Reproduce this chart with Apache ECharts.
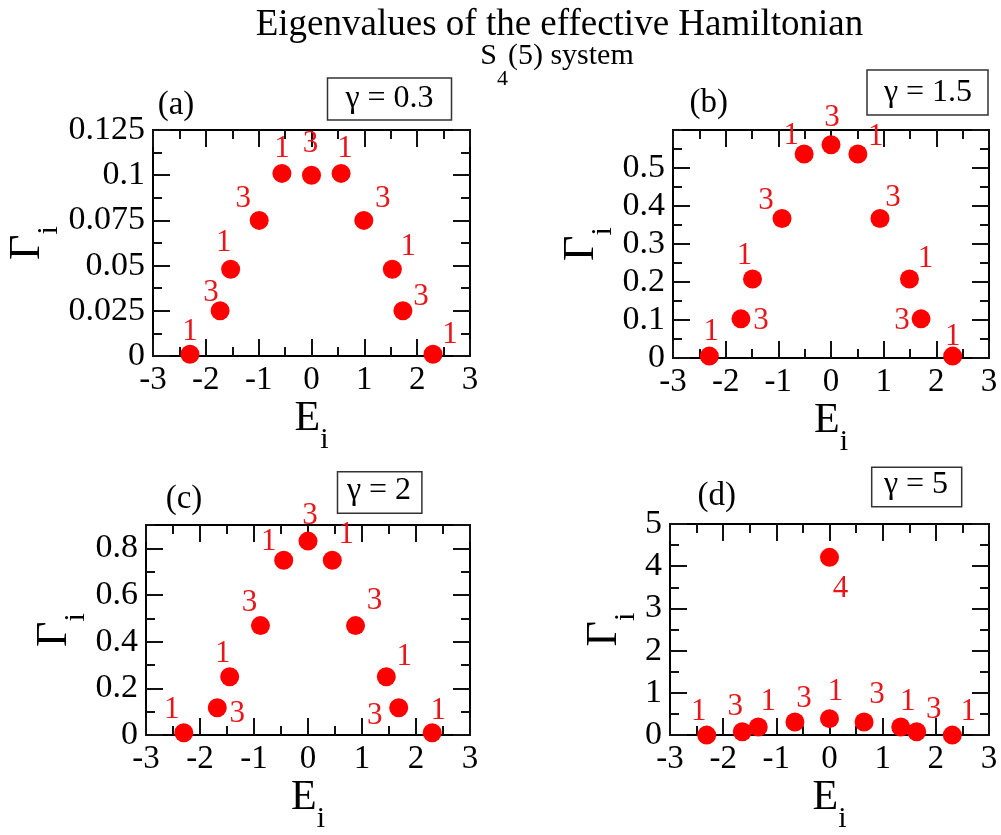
<!DOCTYPE html>
<html>
<head>
<meta charset="utf-8">
<script src="https://cdn.jsdelivr.net/npm/echarts@6/dist/echarts.min.js"></script>
<style>
  html, body { margin: 0; padding: 0; background: #fff; }
  #chart { width: 1001px; height: 835px; }
</style>
</head>
<body>
<div id="chart"></div>
<script>
// Complex eigenvalues E_i - i Γ_i/2 of the effective Hamiltonian of the S4(5) system,
// one panel per coupling γ; the number next to each point is its degeneracy.
const gammaValues = ['0.3', '1.5', '2', '5'];
const panelTags = ['(a)', '(b)', '(c)', '(d)'];

const energyA = [-2.30, -1.73, -1.53, -0.99, -0.56, 0.00, 0.56, 0.99, 1.53, 1.73, 2.30];
const widthA  = [0.001, 0.025, 0.048, 0.075, 0.101, 0.100, 0.101, 0.075, 0.048, 0.025, 0.001];
const degenA  = [1, 3, 1, 3, 1, 3, 1, 3, 1, 3, 1];

const energyB = [-2.31, -1.71, -1.49, -0.93, -0.51, 0.00, 0.51, 0.93, 1.49, 1.71, 2.31];
const widthB  = [0.005, 0.103, 0.208, 0.367, 0.537, 0.561, 0.537, 0.367, 0.208, 0.103, 0.005];
const degenB  = [1, 3, 1, 3, 1, 3, 1, 3, 1, 3, 1];

const energyC = [-2.30, -1.68, -1.45, -0.88, -0.45, 0.00, 0.45, 0.88, 1.45, 1.68, 2.30];
const widthC  = [0.010, 0.117, 0.250, 0.469, 0.749, 0.831, 0.749, 0.469, 0.250, 0.117, 0.010];
const degenC  = [1, 3, 1, 3, 1, 3, 1, 3, 1, 3, 1];

const energyD = [-2.31, -1.64, -1.34, -0.65, 0.00, 0.65, 1.34, 1.64, 2.31, 0.00];
const widthD  = [0.00, 0.08, 0.19, 0.31, 0.39, 0.31, 0.19, 0.08, 0.00, 4.21];
const degenD  = [1, 3, 1, 3, 1, 3, 1, 3, 1, 4];

// Axis ranges: [max, major step] of Γ_i for each panel; E_i always runs -3..3
const xRange = [-3, 3, 1];
const yRanges = [[0.125, 0.025], [0.6, 0.1], [0.9, 0.2], [5, 1]];

// ---- styling / layout ----
const SERIF = 'Liberation Serif';
const RED = '#ff0000';
const LABEL_RED = '#e8161b';

// where each degeneracy label sits relative to its point (px)
const labelShift = [
  [[0,-22],[-9,-18],[-7,-26],[-16,-22],[0,-25],[-1,-31],[4,-25],[19,-22],[16,-22],[18,-14],[17,-19]],
  [[2,-24],[20,2],[-8,-23],[-16,-18],[-13,-18],[1,-27],[18,-17],[13,-21],[16,-20],[-19,2],[0,-19]],
  [[-12,-23],[20,6],[-7,-23],[-11,-23],[-15,-18],[2,-25],[14,-25],[19,-25],[18,-20],[-24,8],[6,-22]],
  [[-8,-23],[-7,-25],[10,-25],[9,-23],[6,-27],[13,-27],[7,-25],[17,-22],[16,-23],[11,32]]
];

const layout = [
  { grid: { left: 153, top: 130, width: 317, height: 226 }, yNameGap: 88,
    tag: [176, 105], box: [327.5, 78, 124, 42], boxText: [389.5, 99] },
  { grid: { left: 673, top: 130, width: 316, height: 228 }, yNameGap: 53,
    tag: [708.7, 103], box: [867, 70, 121, 45], boxText: [928, 93] },
  { grid: { left: 146, top: 525, width: 324, height: 219 }, yNameGap: 53,
    tag: [184, 499], box: [337.5, 471.7, 84.4, 41.6], boxText: [379, 491] },
  { grid: { left: 670, top: 524, width: 319, height: 216 }, yNameGap: 29,
    tag: [716.7, 496], box: [871.7, 467.3, 90, 39.4], boxText: [916, 485] }
];

const panelData = [
  [energyA, widthA, degenA],
  [energyB, widthB, degenB],
  [energyC, widthC, degenC],
  [energyD, widthD, degenD]
];

const MAJOR = 17, MINOR = 9;
const tickLine = { color: '#111', width: 2 };
const frameLine = { color: '#000', width: 2 };

function nameRich(big) {
  return {
    b: { fontFamily: SERIF, fontSize: big, lineHeight: big, color: '#000',
         verticalAlign: 'bottom', padding: [0, 0, 15, 0] },
    s: { fontFamily: SERIF, fontSize: 30, lineHeight: 30, color: '#000',
         verticalAlign: 'bottom' }
  };
}

const xAxes = [], yAxes = [], grids = [], series = [], graphics = [];

layout.forEach((L, gi) => {
  grids.push(Object.assign({ containLabel: false }, L.grid));
  const [yMax, yStep] = yRanges[gi];

  // frame: bottom (labelled) + minor, top + minor; ticks point inward
  const xBase = { gridIndex: gi, type: 'value', min: xRange[0], max: xRange[1],
                  splitLine: { show: false } };
  xAxes.push(Object.assign({}, xBase, {
    position: 'bottom', interval: xRange[2],
    axisLine: { show: true, onZero: false, lineStyle: frameLine },
    axisTick: { show: true, inside: true, length: MAJOR, lineStyle: tickLine },
    axisLabel: { show: true, margin: 8, fontFamily: SERIF, fontSize: 33, color: '#000' },
    name: '{b|E}{s|i}', nameLocation: 'middle', nameGap: 34,
    nameTextStyle: { fontFamily: SERIF, rich: nameRich(42) }
  }));
  xAxes.push(Object.assign({}, xBase, {
    position: 'bottom', interval: xRange[2] / 2,
    axisLine: { show: false, onZero: false },
    axisTick: { show: true, inside: true, length: MINOR, lineStyle: tickLine },
    axisLabel: { show: false }
  }));
  xAxes.push(Object.assign({}, xBase, {
    position: 'top', interval: xRange[2],
    axisLine: { show: true, onZero: false, lineStyle: frameLine },
    axisTick: { show: true, inside: true, length: MAJOR, lineStyle: tickLine },
    axisLabel: { show: false }
  }));
  xAxes.push(Object.assign({}, xBase, {
    position: 'top', interval: xRange[2] / 2,
    axisLine: { show: false, onZero: false },
    axisTick: { show: true, inside: true, length: MINOR, lineStyle: tickLine },
    axisLabel: { show: false }
  }));

  const yBase = { gridIndex: gi, type: 'value', min: 0, max: yMax,
                  splitLine: { show: false } };
  yAxes.push(Object.assign({}, yBase, {
    position: 'left', interval: yStep,
    axisLine: { show: true, onZero: false, lineStyle: frameLine },
    axisTick: { show: true, inside: true, length: MAJOR, lineStyle: tickLine },
    axisLabel: { show: true, margin: 8, fontFamily: SERIF, fontSize: 34, color: '#000',
                 showMaxLabel: (yMax / yStep) % 1 === 0 && gi !== 1 },
    name: '{b|Γ}{s|i}', nameLocation: 'middle', nameGap: L.yNameGap, nameRotate: 90,
    nameTextStyle: { fontFamily: SERIF, rich: nameRich(44) }
  }));
  yAxes.push(Object.assign({}, yBase, {
    position: 'left', interval: yStep / 2,
    axisLine: { show: false, onZero: false },
    axisTick: { show: true, inside: true, length: MINOR, lineStyle: tickLine },
    axisLabel: { show: false }
  }));
  yAxes.push(Object.assign({}, yBase, {
    position: 'right', interval: yStep,
    axisLine: { show: true, onZero: false, lineStyle: frameLine },
    axisTick: { show: true, inside: true, length: MAJOR, lineStyle: tickLine },
    axisLabel: { show: false }
  }));
  yAxes.push(Object.assign({}, yBase, {
    position: 'right', interval: yStep / 2,
    axisLine: { show: false, onZero: false },
    axisTick: { show: true, inside: true, length: MINOR, lineStyle: tickLine },
    axisLabel: { show: false }
  }));

  const [es, ws, ds] = panelData[gi];
  series.push({
    type: 'scatter',
    xAxisIndex: gi * 4, yAxisIndex: gi * 4,
    symbol: 'circle', symbolSize: 19,
    clip: false,
    itemStyle: { color: RED, opacity: 1 },
    label: {
      show: true, position: 'inside', formatter: p => String(p.value[2]),
      fontFamily: SERIF, fontSize: 31, color: LABEL_RED
    },
    emphasis: { disabled: true },
    data: es.map((e, k) => ({
      value: [e, ws[k], ds[k]],
      label: { offset: labelShift[gi][k] }
    }))
  });

  // panel tag and γ box
  graphics.push({
    type: 'text', x: L.tag[0], y: L.tag[1],
    style: { text: panelTags[gi], fill: '#000', fontFamily: SERIF, fontSize: 33,
             align: 'center', verticalAlign: 'middle' }
  });
  graphics.push({
    type: 'rect',
    shape: { x: L.box[0], y: L.box[1], width: L.box[2], height: L.box[3] },
    style: { fill: '#fff', stroke: '#333', lineWidth: 1.5 }
  });
  graphics.push({
    type: 'text', x: L.boxText[0], y: L.boxText[1],
    style: { text: 'γ = ' + gammaValues[gi], fill: '#000', fontFamily: SERIF, fontSize: 32,
             align: 'center', verticalAlign: 'middle' }
  });
});

// figure heading
graphics.push({
  type: 'text', x: 559.5, y: 25,
  style: { text: 'Eigenvalues of the effective Hamiltonian', fill: '#000',
           fontFamily: SERIF, fontSize: 37, align: 'center', verticalAlign: 'middle' }
});
graphics.push({
  type: 'text', x: 557, y: 75,
  style: {
    text: '{n|S}{s|4}{n|(5) system}', fill: '#000', fontFamily: SERIF,
    align: 'center', verticalAlign: 'middle',
    rich: {
      n: { fontFamily: SERIF, fontSize: 30, lineHeight: 30, fill: '#000', verticalAlign: 'bottom', padding: [0, 0, 19, 0] },
      s: { fontFamily: SERIF, fontSize: 22, lineHeight: 22, fill: '#000', verticalAlign: 'bottom' }
    }
  }
});

const chart = echarts.init(document.getElementById('chart'), null, { renderer: 'canvas' });
chart.setOption({
  backgroundColor: '#fff',
  animation: false,
  textStyle: { fontFamily: SERIF },
  grid: grids,
  xAxis: xAxes,
  yAxis: yAxes,
  series: series,
  graphic: graphics
});
</script>
</body>
</html>
